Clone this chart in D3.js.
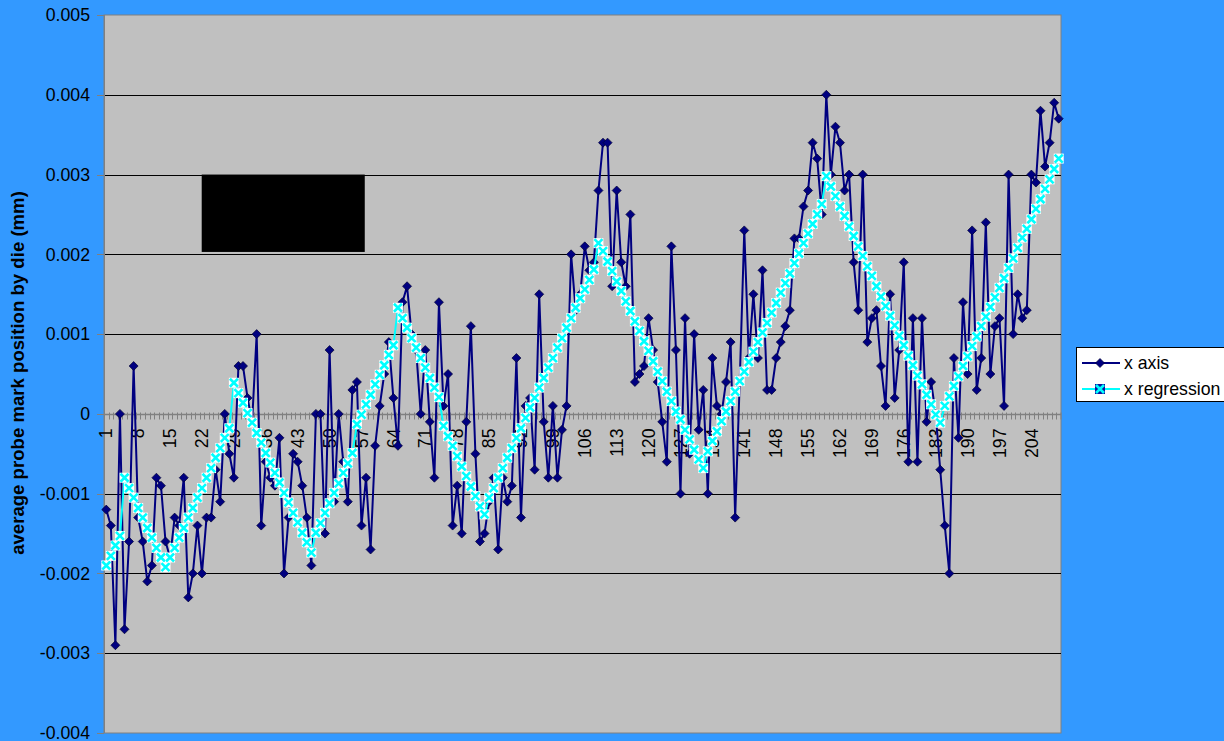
<!DOCTYPE html>
<html>
<head>
<meta charset="utf-8">
<script src="https://cdn.jsdelivr.net/npm/d3@7"></script>
<style>
  html, body { margin: 0; padding: 0; background: #3399ff; }
  svg { display: block; font-family: "Liberation Sans", Arial, sans-serif; }
</style>
</head>
<body>
<div class="chart"></div>
<script>
// die index 1..210
const categories = d3.range(1, 211);

// "x axis" series, average probe mark position per die (mm)
const xAxisValues = [
  -0.0012, -0.0014, -0.0029, 0, -0.0027, -0.0016, 0.0006, -0.0013, -0.0016, -0.0021,
  -0.0019, -0.0008, -0.0009, -0.0016, -0.0018, -0.0013, -0.0014, -0.0008, -0.0023, -0.0020,
  -0.0014, -0.0020, -0.0013, -0.0013, -0.0007, -0.0011, 0, -0.0005, -0.0008, 0.0006,
  0.0006, 0.0002, -0.0001, 0.0010, -0.0014, -0.0006, -0.0008, -0.0009, -0.0003, -0.0020,
  -0.0013, -0.0005, -0.0006, -0.0009, -0.0013, -0.0019, 0, 0, -0.0015, 0.0008,
  -0.0011, 0, -0.0006, -0.0011, 0.0003, 0.0004, -0.0014, -0.0008, -0.0017, -0.0004,
  0.0001, 0.0005, 0.0009, 0.0002, -0.0004, 0.0014, 0.0016, 0.0010, 0.0008, 0,
  0.0008, -0.0001, -0.0008, 0.0014, 0.0001, 0.0005, -0.0014, -0.0009, -0.0015, -0.0001,
  0.0011, -0.0005, -0.0016, -0.0015, -0.0011, -0.0008, -0.0017, -0.0008, -0.0011, -0.0009,
  0.0007, -0.0013, 0.0001, 0.0002, -0.0007, 0.0015, -0.0001, -0.0008, 0.0001, -0.0008,
  -0.0002, 0.0001, 0.0020, 0.0013, 0.0015, 0.0021, 0.0018, 0.0019, 0.0028, 0.0034,
  0.0034, 0.0016, 0.0028, 0.0019, 0.0016, 0.0025, 0.0004, 0.0005, 0.0006, 0.0012,
  0.0008, 0.0004, -0.0001, -0.0006, 0.0021, 0.0008, -0.0010, 0.0012, -0.0005, 0.0010,
  -0.0002, 0.0003, -0.0010, 0.0007, 0.0001, 0, 0.0004, 0.0009, -0.0013, 0.0004,
  0.0023, 0.0007, 0.0015, 0.0007, 0.0018, 0.0003, 0.0003, 0.0007, 0.0009, 0.0011,
  0.0013, 0.0022, 0.0022, 0.0026, 0.0028, 0.0034, 0.0032, 0.0025, 0.0040, 0.0030,
  0.0036, 0.0034, 0.0028, 0.0030, 0.0019, 0.0013, 0.0030, 0.0009, 0.0012, 0.0013,
  0.0006, 0.0001, 0.0015, 0.0002, 0.0008, 0.0019, -0.0006, 0.0012, -0.0006, 0.0012,
  -0.0001, 0.0004, 0, -0.0007, -0.0014, -0.0020, 0.0007, -0.0003, 0.0014, 0.0005,
  0.0023, 0.0003, 0.0007, 0.0024, 0.0005, 0.0011, 0.0012, 0.0001, 0.0030, 0.0010,
  0.0015, 0.0012, 0.0013, 0.0030, 0.0029, 0.0038, 0.0031, 0.0034, 0.0039, 0.0037
];

// "x regression" series
const xRegressionValues = [
  -0.00190, -0.00178, -0.00165, -0.00153, -0.00080, -0.00093, -0.00105, -0.00118, -0.00130, -0.00143,
  -0.00155, -0.00168, -0.00180, -0.00192, -0.00180, -0.00168, -0.00155, -0.00143, -0.00130, -0.00118,
  -0.00105, -0.00093, -0.00080, -0.00068, -0.00055, -0.00043, -0.00030, -0.00018, 0.00039, 0.00026,
  0.00014, 0.00001, -0.00011, -0.00024, -0.00036, -0.00049, -0.00061, -0.00074, -0.00086, -0.00099,
  -0.00111, -0.00124, -0.00136, -0.00149, -0.00161, -0.00174, -0.00149, -0.00137, -0.00124, -0.00112,
  -0.00099, -0.00087, -0.00074, -0.00062, -0.00049, -0.00013, -0.00001, 0.00012, 0.00024, 0.00037,
  0.00049, 0.00061, 0.00074, 0.00086, 0.00133, 0.00120, 0.00108, 0.00095, 0.00083, 0.00070,
  0.00058, 0.00045, 0.00033, 0.00021, -0.00015, -0.00028, -0.00040, -0.00053, -0.00066, -0.00078,
  -0.00091, -0.00103, -0.00116, -0.00126, -0.00105, -0.00093, -0.00080, -0.00068, -0.00055, -0.00043,
  -0.00030, -0.00018, -0.00005, 0.00008, 0.00020, 0.00033, 0.00045, 0.00058, 0.00070, 0.00083,
  0.00095, 0.00108, 0.00120, 0.00133, 0.00145, 0.00156, 0.00168, 0.00181, 0.00214, 0.00204,
  0.00191, 0.00179, 0.00166, 0.00154, 0.00141, 0.00129, 0.00116, 0.00104, 0.00091, 0.00079,
  0.00066, 0.00053, 0.00041, 0.00028, 0.00016, 0.00003, -0.00007, -0.00020, -0.00032, -0.00045,
  -0.00057, -0.00068, -0.00047, -0.00034, -0.00022, -0.00009, 0.00003, 0.00016, 0.00028, 0.00041,
  0.00053, 0.00065, 0.00078, 0.00090, 0.00102, 0.00114, 0.00127, 0.00139, 0.00152, 0.00164,
  0.00176, 0.00189, 0.00201, 0.00214, 0.00226, 0.00238, 0.00250, 0.00263, 0.00298, 0.00285,
  0.00273, 0.00260, 0.00248, 0.00235, 0.00223, 0.00210, 0.00198, 0.00185, 0.00173, 0.00160,
  0.00147, 0.00135, 0.00123, 0.00111, 0.00098, 0.00086, 0.00073, 0.00061, 0.00048, 0.00037,
  0.00024, 0.00012, -0.00001, -0.00011, 0.00010, 0.00022, 0.00035, 0.00047, 0.00060, 0.00072,
  0.00085, 0.00097, 0.00110, 0.00122, 0.00134, 0.00146, 0.00158, 0.00170, 0.00183, 0.00195,
  0.00208, 0.00221, 0.00232, 0.00244, 0.00257, 0.00269, 0.00282, 0.00294, 0.00307, 0.00320
];

const yTickValues = [-0.004, -0.003, -0.002, -0.001, 0, 0.001, 0.002, 0.003, 0.004, 0.005];
const xTickLabels = [1, 8, 15, 22, 29, 36, 43, 50, 57, 64, 71, 78, 85, 92, 99, 106, 113, 120,
  127, 134, 141, 148, 155, 162, 169, 176, 183, 190, 197, 204];
const seriesNames = ["x axis", "x regression"];

const w = 1224;
const h = 741;
const pLeft = 104, pRight = 1061, pTop = 15, pBottom = 733;
const navy = "#000080";
const cyan = "#00ffff";
const fontSize = "17.7px";

const svg = d3.select(".chart").append("svg")
  .attr("width", w)
  .attr("height", h);

svg.append("rect")
  .attr("width", w).attr("height", h)
  .attr("fill", "#3399ff");

const x = d3.scaleBand()
  .domain(categories)
  .range([pLeft, pRight]);
const cx = d => x(d) + x.bandwidth() / 2;

const y = d3.scaleLinear()
  .domain([-0.004, 0.005])
  .range([pBottom, pTop]);

// plot area
svg.append("rect")
  .attr("x", pLeft).attr("y", pTop)
  .attr("width", pRight - pLeft).attr("height", pBottom - pTop)
  .attr("fill", "#c0c0c0")
  .attr("stroke", "#808080")
  .attr("stroke-width", 1);

// gridlines
svg.append("g")
  .selectAll("line")
  .data(yTickValues.filter(v => v !== 0 && v !== 0.005 && v !== -0.004))
  .join("line")
  .attr("x1", pLeft).attr("x2", pRight)
  .attr("y1", d => Math.round(y(d)) + 0.5)
  .attr("y2", d => Math.round(y(d)) + 0.5)
  .attr("stroke", "#000")
  .attr("stroke-width", 1);

// redaction block on the chart
svg.append("rect")
  .attr("x", x(22) + 2)
  .attr("y", y(0.003))
  .attr("width", x(58) - x(22) - 1)
  .attr("height", y(0.00203) - y(0.003))
  .attr("fill", "#000");

// y axis
const yAxis = svg.append("g");
yAxis.append("line")
  .attr("x1", pLeft + 0.5).attr("x2", pLeft + 0.5)
  .attr("y1", pTop).attr("y2", pBottom)
  .attr("stroke", "#808080");
yAxis.selectAll("line.tick")
  .data(yTickValues)
  .join("line")
  .attr("class", "tick")
  .attr("x1", pLeft - 7).attr("x2", pLeft)
  .attr("y1", d => Math.round(y(d)) + 0.5)
  .attr("y2", d => Math.round(y(d)) + 0.5)
  .attr("stroke", "#808080");
yAxis.selectAll("text")
  .data(yTickValues)
  .join("text")
  .attr("x", 90)
  .attr("y", d => y(d))
  .attr("dy", "0.35em")
  .attr("text-anchor", "end")
  .style("font-size", fontSize)
  .text(d => d === 0 ? "0" : d.toFixed(3));

// x axis on the zero line
const y0 = Math.round(y(0)) + 0.5;
const xAxis = svg.append("g");
xAxis.selectAll("line.tick")
  .data(categories.concat([211]))
  .join("line")
  .attr("class", "tick")
  .attr("x1", d => d === 211 ? pRight : Math.round(x(d)) + 0.5)
  .attr("x2", d => d === 211 ? pRight : Math.round(x(d)) + 0.5)
  .attr("y1", y0 - 2).attr("y2", y0 + 5)
  .attr("stroke", "#808080");
xAxis.append("line")
  .attr("x1", pLeft).attr("x2", pRight)
  .attr("y1", y0).attr("y2", y0)
  .attr("stroke", "#808080")
  .attr("stroke-width", 1.5);
xAxis.selectAll("text")
  .data(xTickLabels)
  .join("text")
  .attr("transform", d => `translate(${cx(d)},${y0 + 14}) rotate(-90)`)
  .attr("dy", "0.35em")
  .attr("text-anchor", "end")
  .style("font-size", fontSize)
  .text(d => d);

// y axis title
svg.append("text")
  .attr("transform", "translate(24,373) rotate(-90)")
  .attr("text-anchor", "middle")
  .style("font-size", "18.6px")
  .style("font-weight", "bold")
  .text("average probe mark position by die (mm)");

// series
const line = d3.line()
  .x(d => cx(d.c))
  .y(d => y(d.v));

const seriesA = categories.map((c, i) => ({ c: c, v: xAxisValues[i] }));
const seriesB = categories.map((c, i) => ({ c: c, v: xRegressionValues[i] }));

function diamond(g, r) {
  g.append("path")
    .attr("d", `M0,${-r}L${r},0L0,${r}L${-r},0Z`)
    .attr("fill", navy)
    .attr("stroke", "#000033")
    .attr("stroke-width", 0.7);
}

function xMarker(g, r, bg) {
  g.append("rect")
    .attr("x", -r).attr("y", -r)
    .attr("width", 2 * r).attr("height", 2 * r)
    .attr("fill", bg);
  g.append("path")
    .attr("d", `M${-r + 1},${-r + 1}L${r - 1},${r - 1}M${r - 1},${-r + 1}L${-r + 1},${r - 1}`)
    .attr("stroke", cyan)
    .attr("stroke-width", 2.6);
}

svg.append("path")
  .datum(seriesA)
  .attr("d", line)
  .attr("fill", "none")
  .attr("stroke", navy)
  .attr("stroke-width", 2);

svg.append("g")
  .selectAll("g")
  .data(seriesA)
  .join("g")
  .attr("transform", d => `translate(${cx(d.c)},${y(d.v)})`)
  .each(function() { diamond(d3.select(this), 4.5); });

svg.append("path")
  .datum(seriesB)
  .attr("d", line)
  .attr("fill", "none")
  .attr("stroke", cyan)
  .attr("stroke-width", 2);

svg.append("g")
  .selectAll("g")
  .data(seriesB)
  .join("g")
  .attr("transform", d => `translate(${cx(d.c)},${y(d.v)})`)
  .each(function() { xMarker(d3.select(this), 5, "#ffffff"); });

// legend
const legend = svg.append("g").attr("transform", "translate(1076,347)");
legend.append("rect")
  .attr("x", 0.5).attr("y", 0.5)
  .attr("width", 170).attr("height", 54)
  .attr("fill", "#fff")
  .attr("stroke", "#000");

seriesNames.forEach((name, i) => {
  const ly = 16 + i * 26;
  const item = legend.append("g").attr("transform", `translate(0,${ly})`);
  item.append("line")
    .attr("x1", 6).attr("x2", 44)
    .attr("stroke", i === 0 ? navy : cyan)
    .attr("stroke-width", 2);
  const m = item.append("g").attr("transform", "translate(24,0)");
  if (i === 0) diamond(m, 4.5); else xMarker(m, 5, "#1010a0");
  item.append("text")
    .attr("x", 48)
    .attr("dy", "0.35em")
    .style("font-size", fontSize)
    .text(name);
});
</script>
</body>
</html>
